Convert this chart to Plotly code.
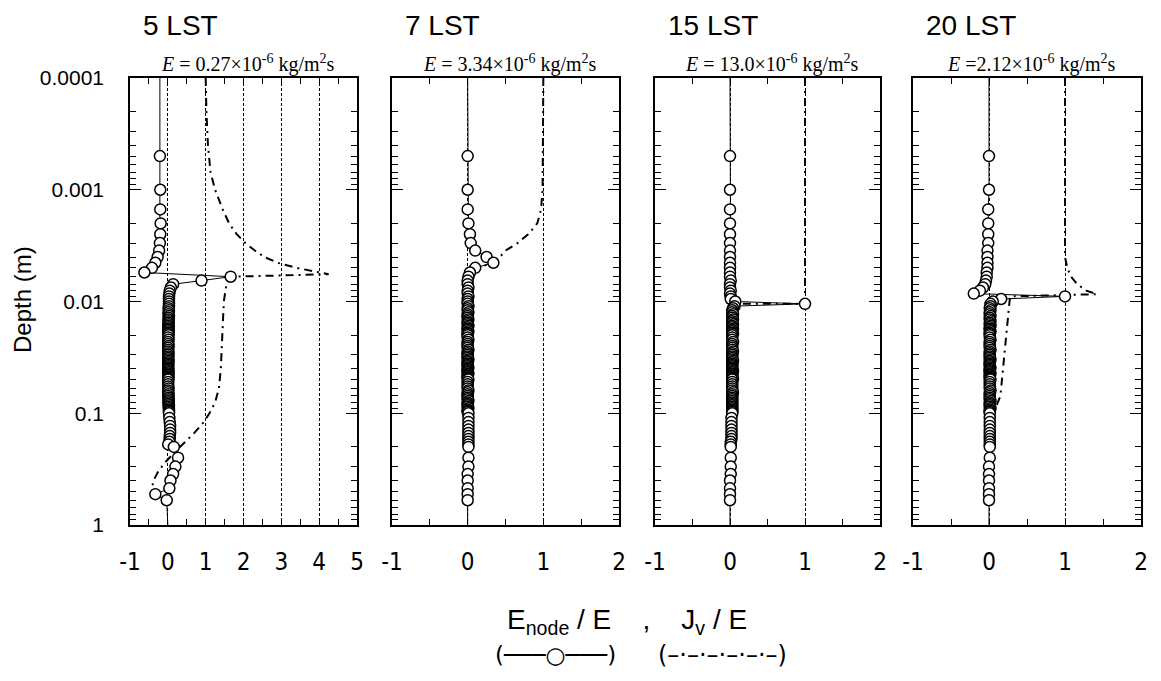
import plotly.graph_objects as go

W, H = 1161, 681

SANS = "Liberation Sans, Arial, sans-serif"
NARROW = "Liberation Sans Narrow, DejaVu Sans Condensed, Liberation Sans, sans-serif"
SERIF = "Liberation Serif, Times New Roman, serif"

# ---- model node depths (m) ----
node_depth = [
    0.0005, 0.001, 0.0015, 0.002, 0.0025, 0.003, 0.0035, 0.004, 0.0045, 0.005,
    0.0055, 0.006, 0.0065, 0.007, 0.0075, 0.008, 0.0085, 0.009, 0.0095, 0.010,
    0.0105, 0.011, 0.0115, 0.012, 0.0125, 0.013, 0.0135, 0.014, 0.0145, 0.015,
    0.0155, 0.016, 0.0165, 0.017, 0.0175, 0.018, 0.0185, 0.019, 0.0195, 0.020,
    0.021, 0.022, 0.023, 0.024, 0.025, 0.026, 0.027, 0.028, 0.029, 0.030,
    0.031, 0.032, 0.033, 0.034, 0.035, 0.036, 0.037, 0.038, 0.039, 0.040,
    0.041, 0.042, 0.043, 0.044, 0.045, 0.046, 0.047, 0.048, 0.049, 0.050,
    0.0525, 0.055, 0.0575, 0.060, 0.0625, 0.065, 0.0675, 0.070, 0.0725, 0.075,
    0.0775, 0.080, 0.0825, 0.085, 0.0875, 0.090, 0.0925, 0.095, 0.0975, 0.100,
    0.11, 0.12, 0.13, 0.14, 0.15, 0.16, 0.17, 0.18, 0.19, 0.20,
    0.25, 0.30, 0.35, 0.40, 0.47, 0.53, 0.60,
]

# ---- E_node / E at each node ----
enode_05 = [
    -0.21, -0.20, -0.20, -0.19, -0.20, -0.21, -0.23, -0.27, -0.33, -0.42,
    -0.62, 1.66, 0.89, 0.14, 0.08, 0.05, 0.04, 0.03, 0.03, 0.03,
    0.03, 0.03, 0.02, 0.03, 0.02, 0.02, 0.03, 0.02, 0.02, 0.02,
    0.02, 0.02, 0.01, 0.02, 0.02, 0.01, 0.02, 0.02, 0.01, 0.02,
    0.01, 0.02, 0.01, 0.01, 0.02, 0.01, 0.01, 0.01, 0.02, 0.01,
    0.01, 0.01, 0.01, 0.02, 0.01, 0.01, 0.01, 0.01, 0.01, 0.01,
    0.01, 0.01, 0.02, 0.01, 0.01, 0.01, 0.01, 0.02, 0.01, 0.01,
    0.01, 0.01, 0.01, 0.02, 0.01, 0.01, 0.02, 0.01, 0.02, 0.02,
    0.02, 0.02, 0.02, 0.03, 0.02, 0.03, 0.03, 0.03, 0.03, 0.03,
    0.04, 0.05, 0.06, 0.06, 0.06, 0.05, 0.05, 0.04, 0.01, 0.16,
    0.27, 0.20, 0.14, 0.07, 0.04, -0.33, -0.03,
]
enode_07 = [
    0.00, 0.00, 0.00, 0.01, 0.03, 0.04, 0.10, 0.25, 0.34, 0.10,
    0.03, 0.01, 0.00, 0.00, 0.01, 0.00, 0.00, 0.01, 0.00, 0.00,
    0.00, 0.01, 0.00, 0.00, 0.01, 0.00, 0.00, 0.00, 0.01, 0.00,
    0.00, 0.00, 0.01, 0.00, 0.00, 0.00, 0.01, 0.00, 0.00, 0.00,
    0.00, 0.01, 0.00, 0.00, 0.00, 0.00, 0.01, 0.00, 0.00, 0.00,
    0.00, 0.00, 0.01, 0.00, 0.00, 0.00, 0.00, 0.00, 0.01, 0.00,
    0.00, 0.00, 0.00, 0.01, 0.00, 0.00, 0.00, 0.00, 0.00, 0.01,
    0.00, 0.00, 0.00, 0.00, 0.01, 0.00, 0.00, 0.00, 0.00, 0.00,
    0.01, 0.00, 0.00, 0.00, 0.00, 0.01, 0.00, 0.00, 0.00, 0.01,
    0.01, 0.01, 0.01, 0.01, 0.01, 0.01, 0.01, 0.01, 0.01, 0.01,
    0.01, 0.01, 0.00, 0.00, 0.00, 0.00, 0.00,
]
enode_15 = [
    0.00, 0.00, 0.00, 0.00, 0.00, 0.00, 0.00, 0.00, 0.00, 0.00,
    0.00, 0.00, 0.01, 0.00, 0.00, 0.01, 0.00, 0.01, 0.01, 0.07,
    1.00, 0.06, 0.04, 0.03, 0.03, 0.04, 0.03, 0.03, 0.04, 0.03,
    0.03, 0.04, 0.03, 0.03, 0.04, 0.03, 0.03, 0.03, 0.04, 0.03,
    0.03, 0.03, 0.04, 0.03, 0.03, 0.03, 0.03, 0.04, 0.03, 0.03,
    0.03, 0.03, 0.03, 0.04, 0.03, 0.03, 0.03, 0.03, 0.03, 0.03,
    0.03, 0.04, 0.03, 0.03, 0.03, 0.03, 0.03, 0.03, 0.04, 0.03,
    0.03, 0.03, 0.03, 0.03, 0.03, 0.04, 0.03, 0.03, 0.03, 0.03,
    0.03, 0.03, 0.03, 0.03, 0.03, 0.03, 0.03, 0.03, 0.03, 0.03,
    0.02, 0.02, 0.02, 0.02, 0.02, 0.02, 0.02, 0.01, 0.01, 0.01,
    0.01, 0.01, 0.01, 0.00, 0.00, 0.00, 0.00,
]
enode_20 = [
    0.00, 0.00, -0.01, -0.01, -0.01, -0.01, -0.02, -0.02, -0.02, -0.02,
    -0.03, -0.03, -0.04, -0.05, -0.08, -0.12, -0.20, 1.00, 0.16, 0.05,
    0.02, 0.02, 0.01, 0.02, 0.01, 0.01, 0.02, 0.01, 0.01, 0.02,
    0.01, 0.01, 0.02, 0.01, 0.01, 0.01, 0.02, 0.01, 0.01, 0.01,
    0.01, 0.02, 0.01, 0.01, 0.01, 0.01, 0.02, 0.01, 0.01, 0.01,
    0.01, 0.01, 0.02, 0.01, 0.01, 0.01, 0.01, 0.01, 0.02, 0.01,
    0.01, 0.01, 0.01, 0.02, 0.01, 0.01, 0.01, 0.01, 0.01, 0.02,
    0.01, 0.01, 0.01, 0.01, 0.02, 0.01, 0.01, 0.01, 0.01, 0.01,
    0.02, 0.01, 0.01, 0.01, 0.01, 0.02, 0.01, 0.01, 0.01, 0.01,
    0.01, 0.01, 0.01, 0.01, 0.01, 0.01, 0.01, 0.01, 0.01, 0.01,
    0.01, 0.00, 0.00, 0.00, 0.00, 0.00, 0.00,
]

# ---- J_v / E profiles ----
jv_depth_05 = [0.0001, 0.0002, 0.0004, 0.0007, 0.001, 0.0015, 0.002, 0.0025, 0.003,
               0.0035, 0.004, 0.0045, 0.005, 0.0055, 0.0057, 0.006, 0.007, 0.01,
               0.02, 0.04, 0.06, 0.08, 0.10, 0.12, 0.15, 0.18, 0.22, 0.27, 0.33,
               0.40, 0.47, 0.53]
jv_05 = [1.00, 1.02, 1.06, 1.13, 1.25, 1.45, 1.62, 1.82, 2.05,
         2.30, 2.55, 2.90, 3.40, 4.00, 4.25, 1.70, 1.55, 1.48,
         1.45, 1.40, 1.35, 1.25, 1.10, 0.95, 0.70, 0.45, 0.20, -0.05, -0.25,
         -0.38, -0.42, -0.36]

jv_depth_07 = [0.0001, 0.0005, 0.001, 0.0015, 0.002, 0.0025, 0.003, 0.0035, 0.004,
               0.0045, 0.005, 0.006, 0.02, 0.1, 0.6]
jv_07 = [1.00, 1.00, 0.99, 0.97, 0.92, 0.80, 0.66, 0.50, 0.42,
         0.36, 0.10, 0.00, 0.00, 0.00, 0.00]

jv_depth_15 = [0.0001, 0.001, 0.005, 0.0105, 0.0105, 0.02, 0.1, 0.6]
jv_15 = [1.00, 1.00, 1.00, 1.00, 0.03, 0.03, 0.02, 0.00]

jv_depth_20 = [0.0001, 0.001, 0.003, 0.004, 0.005, 0.006, 0.007, 0.008, 0.0086,
               0.009, 0.01, 0.02, 0.04, 0.07, 0.085, 0.10, 0.12, 0.6]
jv_20 = [1.00, 1.00, 1.00, 1.00, 1.03, 1.08, 1.16, 1.28, 1.42,
         0.28, 0.27, 0.23, 0.19, 0.15, 0.10, 0.03, 0.00, 0.00]

panel_titles = ["5 LST", "7 LST", "15 LST", "20 LST"]
flux_labels = [
    "<i>E</i> = 0.27×10<sup>-6</sup> kg/m<sup>2</sup>s",
    "<i>E</i> = 3.34×10<sup>-6</sup> kg/m<sup>2</sup>s",
    "<i>E</i> = 13.0×10<sup>-6</sup> kg/m<sup>2</sup>s",
    "<i>E</i> =2.12×10<sup>-6</sup> kg/m<sup>2</sup>s",
]
x_max = [5, 2, 2, 2]
depth_ticks = [0.0001, 0.001, 0.01, 0.1, 1]
depth_ticktext = ["0.0001", "0.001", "0.01", "0.1", "1"]

enode_all = [enode_05, enode_07, enode_15, enode_20]
jv_depth_all = [jv_depth_05, jv_depth_07, jv_depth_15, jv_depth_20]
jv_all = [jv_05, jv_07, jv_15, jv_20]

# panel placement in pixels
panel_px = [(130, 357), (392, 619), (655, 880), (913, 1141)]
top_px, bottom_px = 78, 525
y_dom = [1 - bottom_px / H, 1 - top_px / H]

minor_depth = [m * 10.0 ** e for e in range(-4, 0) for m in range(2, 10)]

fig = go.Figure()
layout = {}
annotations = []

for i in range(4):
    sfx = "" if i == 0 else str(i + 1)
    xref, yref = "x" + sfx, "y" + sfx
    x0, x1 = panel_px[i]

    # J_v / E (dash-dot)
    fig.add_trace(go.Scatter(
        x=jv_all[i], y=jv_depth_all[i], mode="lines",
        line=dict(color="black", width=2, dash="8px,5px,2px,5px"),
        xaxis=xref, yaxis=yref, showlegend=False, hoverinfo="skip"))

    # E_node / E connecting line, run from surface to the bottom boundary
    ex = [enode_all[i][0]] + enode_all[i] + [0.0]
    ey = [0.0001] + node_depth + [1.0]
    fig.add_trace(go.Scatter(
        x=ex, y=ey, mode="lines", line=dict(color="black", width=1),
        xaxis=xref, yaxis=yref, showlegend=False, hoverinfo="skip"))

    # node markers
    fig.add_trace(go.Scatter(
        x=enode_all[i], y=node_depth, mode="markers",
        marker=dict(symbol="circle", size=11, color="white",
                    line=dict(color="black", width=1.5)),
        xaxis=xref, yaxis=yref, showlegend=False, hoverinfo="skip"))

    xt = list(range(-1, x_max[i] + 1))
    layout["xaxis" + sfx] = dict(
        domain=[x0 / W, x1 / W], range=[-1, x_max[i]], anchor=yref,
        tickvals=xt, ticktext=[str(v) for v in xt],
        ticks="inside", ticklen=6, tickwidth=1, tickcolor="black",
        minor=dict(dtick=0.5, tick0=0, ticks="inside", ticklen=6,
                   tickwidth=1, tickcolor="black", showgrid=False),
        showline=True, linecolor="black", linewidth=1.5, mirror="ticks",
        showgrid=True, gridcolor="black", gridwidth=1, griddash="3px,2px",
        zeroline=False, ticklabelstandoff=14, automargin=False,
        tickfont=dict(family=NARROW, size=24, color="black"),
    )
    layout["yaxis" + sfx] = dict(
        domain=y_dom, type="log", range=[0, -4], anchor=xref,
        tickvals=depth_ticks, ticktext=depth_ticktext, showticklabels=(i == 0),
        ticks="inside", ticklen=11, tickwidth=1, tickcolor="black",
        minor=dict(tickvals=minor_depth, ticks="inside", ticklen=6,
                   tickwidth=1, tickcolor="black", showgrid=False),
        showline=True, linecolor="black", linewidth=1.5, mirror="ticks",
        showgrid=False, zeroline=False, ticklabelstandoff=20, automargin=False,
        tickfont=dict(family=SANS, size=21, color="black"),
    )

    annotations.append(dict(
        text=panel_titles[i], x=(x0 + 11) / W, y=1 - 26 / H,
        xref="paper", yref="paper", xanchor="left", yanchor="middle",
        showarrow=False, font=dict(family=SANS, size=28, color="black")))
    annotations.append(dict(
        text=flux_labels[i], x=((x0 + x1) / 2 + 4) / W, y=1 - 64 / H,
        xref="paper", yref="paper", xanchor="center", yanchor="middle",
        showarrow=False, font=dict(family=SERIF, size=20, color="black")))

annotations.append(dict(
    text="Depth (m)", x=22 / W, y=1 - 300 / H, xref="paper", yref="paper",
    textangle=-90, xanchor="center", yanchor="middle", showarrow=False,
    font=dict(family=SANS, size=24, color="black")))
annotations.append(dict(
    text="E<sub>node</sub> / E    ,    J<sub>v</sub> / E",
    x=627 / W, y=1 - 621 / H, xref="paper", yref="paper",
    xanchor="center", yanchor="middle", showarrow=False,
    font=dict(family=SANS, size=28, color="black")))
annotations.append(dict(
    text="(───○───)",
    x=555 / W, y=1 - 655 / H, xref="paper", yref="paper",
    xanchor="center", yanchor="middle", showarrow=False,
    font=dict(family="DejaVu Sans, sans-serif", size=23, color="black")))
annotations.append(dict(
    text="(–·–·–·–·–·–)", x=722 / W, y=1 - 655 / H, xref="paper", yref="paper",
    xanchor="center", yanchor="middle", showarrow=False,
    font=dict(family="DejaVu Sans, sans-serif", size=24, color="black")))

fig.update_layout(
    width=W, height=H,
    margin=dict(l=0, r=0, t=0, b=0, pad=0, autoexpand=False),
    paper_bgcolor="white", plot_bgcolor="white",
    annotations=annotations, **layout)

fig.write_html("out.html")
